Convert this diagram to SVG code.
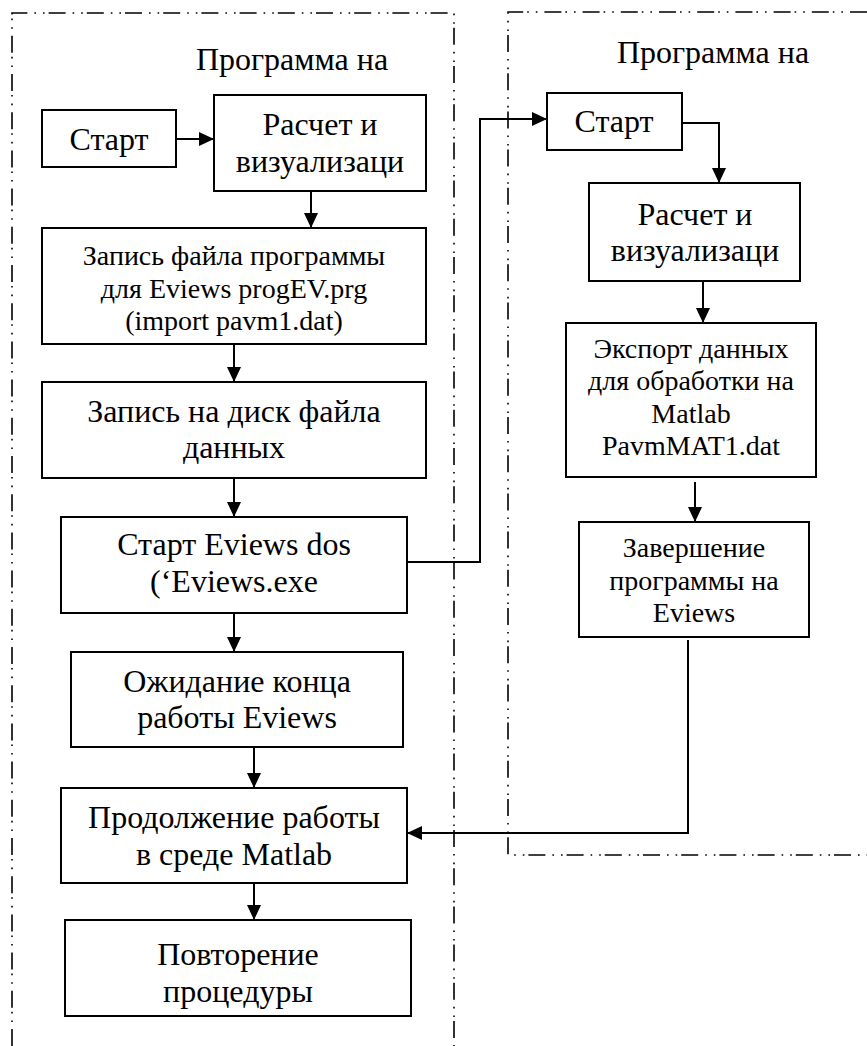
<svg xmlns="http://www.w3.org/2000/svg" width="867" height="1046" viewBox="0 0 867 1046">
<style>
.box{fill:#fff;stroke:#000;stroke-width:2}
.frame{fill:none;stroke:#000;stroke-width:1.6;stroke-dasharray:17 7 1.6 7 1.6 4}
.c{fill:none;stroke:#000;stroke-width:2}
</style>
<defs>
<marker id="ah" markerUnits="userSpaceOnUse" markerWidth="16" markerHeight="14" refX="15" refY="7" orient="auto">
<path d="M0,0 L15,7 L0,14 Z" fill="#000"/>
</marker>
</defs>
<g id="frames">
<path class="frame" d="M12,1046 L12,13 L454,13 L454,1046"/>
<path class="frame" d="M867,12 L508,12 L508,855 L867,855"/>
</g>
<g id="connectors">
<line class="c" x1="176" y1="139" x2="214" y2="139" marker-end="url(#ah)"/>
<line class="c" x1="311" y1="191" x2="311" y2="228" marker-end="url(#ah)"/>
<line class="c" x1="234" y1="344" x2="234" y2="382" marker-end="url(#ah)"/>
<line class="c" x1="234" y1="478" x2="234" y2="517" marker-end="url(#ah)"/>
<line class="c" x1="234" y1="613" x2="234" y2="652" marker-end="url(#ah)"/>
<line class="c" x1="254" y1="747" x2="254" y2="788" marker-end="url(#ah)"/>
<line class="c" x1="254" y1="883" x2="254" y2="920" marker-end="url(#ah)"/>
<polyline class="c" points="407,562 480,562 480,119 547,119" marker-end="url(#ah)"/>
<polyline class="c" points="682,123 719,123 719,183" marker-end="url(#ah)"/>
<line class="c" x1="703" y1="281" x2="703" y2="323" marker-end="url(#ah)"/>
<line class="c" x1="695" y1="482" x2="695" y2="522" marker-end="url(#ah)"/>
<polyline class="c" points="688,640 688,833 407,833" marker-end="url(#ah)"/>
</g>
<g font-family="Liberation Serif, Times New Roman, serif" text-anchor="middle" fill="#000" font-size="32">
<g id="titles">
<text x="292" y="70">Программа на</text>
<text x="713" y="63">Программа на</text>
</g>
<g id="n1"><rect class="box" x="42" y="110" width="134" height="57"/><text x="109" y="150">Старт</text></g>
<g id="n2"><rect class="box" x="214" y="95" width="212" height="96"/><text x="320" y="135">Расчет и</text><text x="320" y="172">визуализаци</text></g>
<g id="n3" font-size="28"><rect class="box" x="42" y="228" width="384" height="116"/><text x="234" y="265">Запись файла программы</text><text x="234" y="298">для Eviews progEV.prg</text><text x="234" y="330">(import pavm1.dat)</text></g>
<g id="n4"><rect class="box" x="42" y="382" width="384" height="96"/><text x="234" y="422">Запись на диск файла</text><text x="234" y="458">данных</text></g>
<g id="n5"><rect class="box" x="61" y="517" width="346" height="96"/><text x="234" y="555">Старт Eviews dos</text><text x="234" y="592">(‘Eviews.exe</text></g>
<g id="n6"><rect class="box" x="71" y="652" width="332" height="95"/><text x="237" y="692">Ожидание конца</text><text x="237" y="728">работы Eviews</text></g>
<g id="n7"><rect class="box" x="61" y="788" width="346" height="95"/><text x="234" y="828">Продолжение работы</text><text x="234" y="865">в среде Matlab</text></g>
<g id="n8"><rect class="box" x="65" y="920" width="346" height="96"/><text x="238" y="965">Повторение</text><text x="238" y="1002">процедуры</text></g>
<g id="n9"><rect class="box" x="547" y="93" width="135" height="57"/><text x="614" y="132">Старт</text></g>
<g id="n10"><rect class="box" x="589" y="183" width="211" height="98"/><text x="695" y="225">Расчет и</text><text x="695" y="261">визуализаци</text></g>
<g id="n11" font-size="28"><rect class="box" x="566" y="323" width="250" height="154"/><text x="691" y="358">Экспорт данных</text><text x="691" y="390">для обработки на</text><text x="691" y="423">Matlab</text><text x="691" y="455">PavmMAT1.dat</text></g>
<g id="n12" font-size="28"><rect class="box" x="579" y="522" width="230" height="115"/><text x="694" y="557">Завершение</text><text x="694" y="590">программы на</text><text x="694" y="622">Eviews</text></g>
</g>
</svg>
